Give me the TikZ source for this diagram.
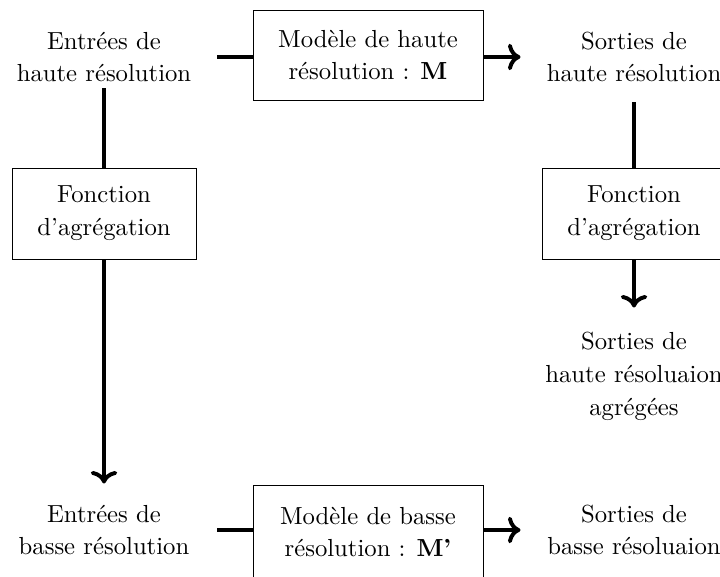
\documentclass[tikz,border=0pt]{standalone}
\usetikzlibrary{arrows.meta}
\begin{document}
\begin{tikzpicture}[x=0.405pt,y=-0.405pt,
  every node/.style={align=center,font=\fontsize{10}{13.3}\selectfont,inner sep=0pt},
  txt/.style={minimum width=226*0.405pt,minimum height=90*0.405pt},
  boxm/.style={draw,line width=0.4pt,minimum width=230*0.405pt,minimum height=90*0.405pt},
  boxa/.style={draw,line width=0.4pt,minimum width=184*0.405pt,minimum height=91*0.405pt},
  conn/.style={line width=1.6pt},
  arr/.style={line width=1.6pt,->}]
\useasboundingbox (0,0) rectangle (720,577);
\node[txt,minimum height=62*0.405pt] (inhr) at (104,57) {Entrées de\\haute résolution};
\node[boxm] (M) at (368,55) {Modèle de haute\\résolution : \textbf{M}};
\node[txt] (outhr) at (634,57) {Sorties de\\haute résolution};
\node[boxa] (agg1) at (104,213.5) {Fonction\\d'agrégation};
\node[boxa] (agg2) at (634,213.5) {Fonction\\d'agrégation};
\node[minimum width=226*0.405pt,minimum height=136*0.405pt] (outagg) at (634,376) {Sorties de\\haute résoluaion\\agrégées};
\node[txt,minimum height=92*0.405pt] (inbr) at (104,530) {Entrées de\\basse résolution};
\node[boxm,minimum height=94*0.405pt] (Mp) at (368,532) {Modèle de basse\\résolution : \textbf{M'}};
\node[txt] (outbr) at (634,530) {Sorties de\\basse résoluaion};
\draw[conn] (inhr.east) -- (inhr.east -| M.west);
\draw[arr] (M.east |- outhr.west) -- (outhr.west);
\draw[conn] (inhr.south) -- (agg1.north);
\draw[arr] (agg1.south) -- (inbr.north);
\draw[conn] (outhr.south) -- (agg2.north);
\draw[arr] (agg2.south) -- (outagg.north);
\draw[conn] (inbr.east) -- (inbr.east -| Mp.west);
\draw[arr] (Mp.east |- outbr.west) -- (outbr.west);
\end{tikzpicture}
\end{document}
